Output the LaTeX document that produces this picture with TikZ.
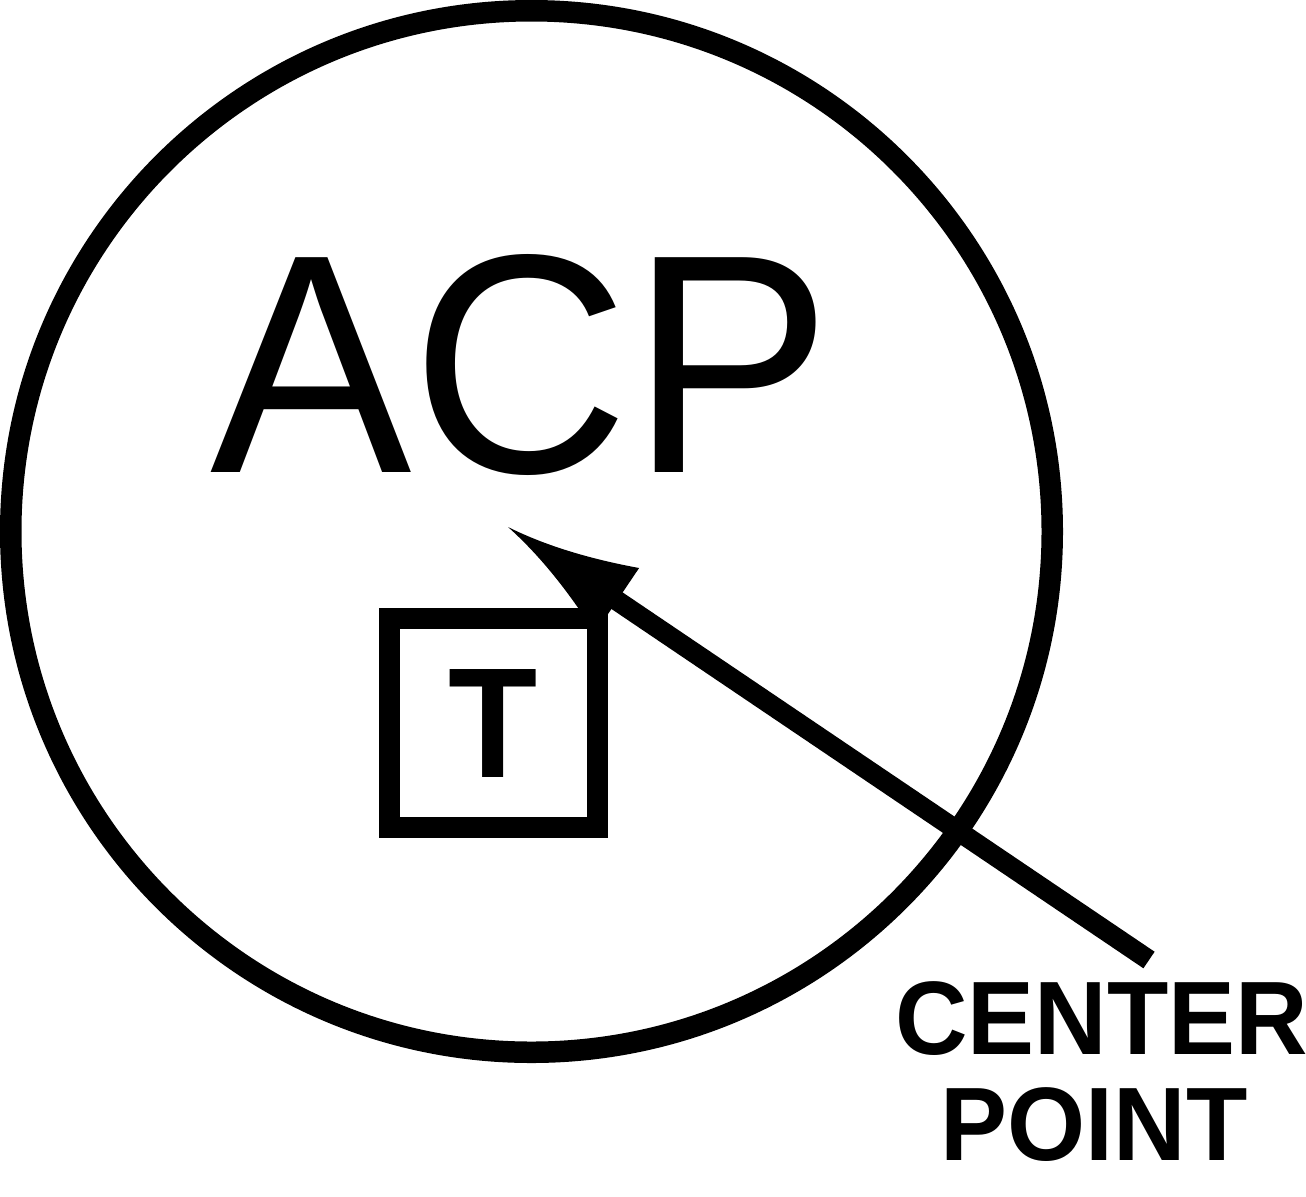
\documentclass[tikz,border=0pt]{standalone}
\usepackage{fontspec}
\setmainfont{Liberation Sans}
\newcommand\tallertext[2]{\scalebox{1}[#1]{#2}}
\begin{document}
\begin{tikzpicture}[x=0.5pt,y=-0.5pt,
  ring/.style={circle,draw=black,line width=10.75pt,minimum size=520.75pt,inner sep=0pt},
  tbox/.style={rectangle,draw=black,line width=10.5pt,minimum width=104pt,minimum height=104.5pt,inner sep=0pt,font=\fontsize{73pt}{80pt}\selectfont\bfseries},
  bigtext/.style={inner sep=0pt,anchor=base,font=\fontsize{151pt}{160pt}\selectfont},
  cptext/.style={inner sep=0pt,anchor=base,font=\fontsize{50.2pt}{55pt}\selectfont\bfseries},
  shaft/.style={line width=10pt,line cap=butt}]
\useasboundingbox (0,0) rectangle (1306,1196);
\node[ring] (circ) at (531.5,531.5) {};
\node[bigtext] (acp) at (521,472) {\tallertext{1.034}{ACP}};
\node[tbox] (box) at (493.5,723) {\tallertext{1.075}{T}};
\node[cptext] (cp1) at (1101.5,1054) {\tallertext{1.04}{CENTER}};
\node[cptext] (cp2) at (1094,1160) {\tallertext{1.04}{POINT}};
\coordinate (tail) at (1149,960);
\coordinate (tip) at (508,527);
\coordinate (shaftend) at (611.6,597);
\draw[shaft] (tail) -- (shaftend);
\fill (tip) .. controls (544.1,545.0) and (587.8,558.6) .. (639.1,568.0)
  -- (595.0,633.3) .. controls (567.1,589.2) and (538.1,553.8) .. (tip) -- cycle;
\end{tikzpicture}
\end{document}
